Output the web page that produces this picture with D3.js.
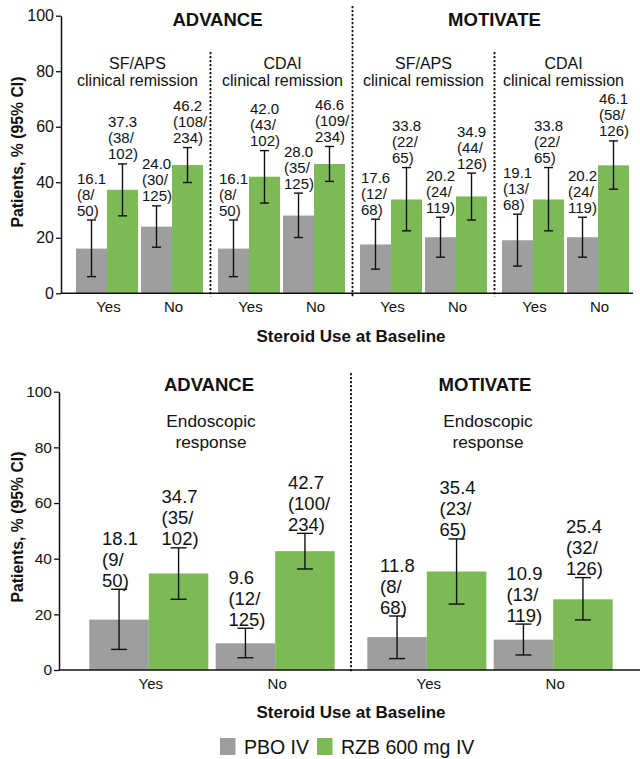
<!DOCTYPE html>
<html><head><meta charset="utf-8">
<script src="https://cdn.jsdelivr.net/npm/d3@7"></script>
<style>body{margin:0;background:#fff}svg{display:block;font-family:"Liberation Sans",Arial,sans-serif}</style>
</head><body>
<svg id="c" width="640" height="759"></svg>
<script>
// ---------- data ----------
const studies = ["ADVANCE", "MOTIVATE"];
const steroidGroups = ["Yes", "No"];
const seriesNames = ["PBO IV", "RZB 600 mg IV"];
const yTicks = [0, 20, 40, 60, 80, 100];

// top chart: 4 panels, each [Yes-PBO, Yes-RZB, No-PBO, No-RZB]
const topEndpoints = [["SF/APS", "clinical remission"], ["CDAI", "clinical remission"], ["SF/APS", "clinical remission"], ["CDAI", "clinical remission"]];
const topPct = [[16.1, 37.3, 24.0, 46.2], [16.1, 42.0, 28.0, 46.6], [17.6, 33.8, 20.2, 34.9], [19.1, 33.8, 20.2, 46.1]];
const topNum = [[8, 38, 30, 108], [8, 43, 35, 109], [12, 22, 24, 44], [13, 22, 24, 58]];
const topDen = [[50, 102, 125, 234], [50, 102, 125, 234], [68, 65, 119, 126], [68, 65, 119, 126]];
const topLo = [[6.0, 27.9, 16.6, 39.9], [6.0, 32.5, 20.1, 40.3], [8.7, 22.5, 13.0, 26.4], [9.8, 22.5, 13.0, 37.5]];
const topHi = [[26.4, 46.6, 31.5, 52.5], [26.4, 51.4, 36.1, 52.9], [26.7, 45.3, 27.4, 43.3], [28.5, 45.3, 27.4, 54.9]];

// bottom chart: 2 panels
const botEndpoint = ["Endoscopic", "response"];
const botPct = [[18.1, 34.7, 9.6, 42.7], [11.8, 35.4, 10.9, 25.4]];
const botNum = [[9, 35, 12, 100], [8, 23, 13, 32]];
const botDen = [[50, 102, 125, 234], [68, 65, 119, 126]];
const botLo = [[7.4, 25.4, 4.4, 36.3], [4.1, 23.7, 5.4, 18.0]];
const botHi = [[29.0, 43.9, 15.0, 49.1], [19.4, 47.1, 16.5, 33.2]];

const xTitle = "Steroid Use at Baseline";
const yTitle = "Patients, % (95% CI)";

// ---------- style ----------
const colors = ["#9d9ea0", "#7cba56"];
const ink = "#111";
const svg = d3.select("#c");

function drawChart(cfg) {
  const g = svg.append("g");
  const nP = cfg.pct.length;
  const panels = d3.range(nP);
  const xP = d3.scaleBand().domain(panels).range(cfg.xr).padding(0);
  const xG = d3.scalePoint().domain(steroidGroups).range([0, xP.bandwidth()]).padding(cfg.gpad);
  const xS = d3.scaleBand().domain(seriesNames).range([-cfg.bw, cfg.bw]);
  const y = d3.scaleLinear().domain([0, 100]).range(cfg.yr);

  // y axis
  const ya = g.append("g").attr("transform", `translate(${cfg.ax},0)`)
    .call(d3.axisLeft(y).tickValues(yTicks).tickSize(5).tickPadding(2).tickSizeOuter(0));
  ya.select(".domain").attr("stroke", ink).attr("stroke-width", 1.5);
  ya.selectAll(".tick line").attr("stroke", ink).attr("stroke-width", 1.3);
  ya.selectAll(".tick text").attr("fill", ink).attr("font-size", cfg.ytf).attr("font-family", null);

  // bars
  const recs = [];
  panels.forEach(p => steroidGroups.forEach((gr, gi) => seriesNames.forEach((s, si) => {
    const k = gi * 2 + si;
    recs.push({p, gr, s, si, v: cfg.pct[p][k], lo: cfg.lo[p][k], hi: cfg.hi[p][k], n: cfg.num[p][k], d: cfg.den[p][k]});
  })));
  const bx = d => xP(d.p) + xG(d.gr) + xS(d.s);
  const cx = d => bx(d) + xS.bandwidth() / 2;
  g.selectAll("rect.bar").data(recs).join("rect").attr("class", "bar")
    .attr("x", bx).attr("width", xS.bandwidth())
    .attr("y", d => y(d.v)).attr("height", d => y(0) - y(d.v))
    .attr("fill", d => colors[d.si]);

  // error bars
  const eb = g.selectAll("g.eb").data(recs).join("g").attr("class", "eb")
    .attr("stroke", ink).attr("stroke-width", 1.4);
  eb.append("line").attr("x1", cx).attr("x2", cx).attr("y1", d => y(d.lo)).attr("y2", d => y(d.hi));
  eb.append("line").attr("x1", d => cx(d) - cfg.cap).attr("x2", d => cx(d) + cfg.cap).attr("y1", d => y(d.hi)).attr("y2", d => y(d.hi));
  eb.append("line").attr("x1", d => cx(d) - cfg.cap).attr("x2", d => cx(d) + cfg.cap).attr("y1", d => y(d.lo)).attr("y2", d => y(d.lo));

  // value labels
  recs.forEach(d => {
    const lines = [d.v.toFixed(1), `(${d.n}/`, `${d.d})`];
    const x0 = cfg.labelX(d, bx, cx);
    const yb = y(d.hi) - cfg.lab.off;
    const t = g.append("text").attr("font-size", cfg.lab.fs).attr("fill", ink);
    lines.forEach((l, i) => t.append("tspan").attr("x", x0).attr("y", yb - (2 - i) * cfg.lab.lh).text(l));
  });

  // x axis line
  g.append("line").attr("x1", cfg.ax).attr("x2", cfg.xEnd).attr("y1", y(0)).attr("y2", y(0))
    .attr("stroke", ink).attr("stroke-width", 1.5);
  // x tick labels
  panels.forEach(p => steroidGroups.forEach(gr => {
    g.append("text").attr("x", xP(p) + xG(gr) + cfg.xtdx).attr("y", cfg.xtY)
      .attr("text-anchor", "middle").attr("font-size", cfg.xtf).attr("fill", ink).text(gr);
  }));

  // dividers
  cfg.dividers.forEach(dv => {
    g.append("line").attr("x1", xP(dv.p)).attr("x2", xP(dv.p)).attr("y1", dv.y1).attr("y2", y(0) + 3)
      .attr("stroke", ink).attr("stroke-width", 1.8).attr("stroke-dasharray", "2.2,1.8");
  });

  // study titles
  studies.forEach((st, i) => {
    const ps = cfg.studyPanels[i];
    const mid = (xP(ps[0]) + xP(ps[ps.length - 1]) + xP.bandwidth()) / 2;
    g.append("text").attr("x", mid + cfg.stdx[i]).attr("y", cfg.stY).attr("text-anchor", "middle")
      .attr("font-size", 18.5).attr("font-weight", "bold").attr("fill", ink).text(st);
  });
  // endpoint subtitles
  panels.forEach(p => {
    const ep = cfg.endpoints[p];
    ep.forEach((l, i) => g.append("text").attr("x", xP(p) + xP.bandwidth() / 2 + cfg.epdx[p]).attr("y", cfg.epY[i])
      .attr("text-anchor", "middle").attr("font-size", cfg.epf).attr("fill", ink).text(l));
  });

  // axis titles
  g.append("text").attr("x", 351).attr("y", cfg.xtitleY).attr("text-anchor", "middle")
    .attr("font-size", 17).attr("font-weight", "bold").attr("fill", ink).text(xTitle);
  g.append("text").attr("transform", `translate(${cfg.ytX},${cfg.ytY}) rotate(-90)`).attr("text-anchor", "middle")
    .attr("font-size", 15.8).attr("font-weight", "bold").attr("fill", ink).text(yTitle);
}

drawChart({
  pct: topPct, num: topNum, den: topDen, lo: topLo, hi: topHi,
  xr: [68.5, 636.5], yr: [293.3, 15.7], ax: 61, xEnd: 633, gpad: 0.592, bw: 31, cap: 4.5,
  ytf: 16, xtf: 15, xtY: 312, xtdx: 1.5,
  lab: {fs: 15, lh: 16, off: 4.5},
  labelX: (d, bx, cx) => bx(d) + 1,
  dividers: [{p: 1, y1: 52}, {p: 2, y1: 6}, {p: 3, y1: 52}],
  studyPanels: [[0, 1], [2, 3]], stdx: [7, 0], stY: 25.5,
  endpoints: topEndpoints, epdx: [-2, 1, 0, -2], epY: [68.5, 86], epf: 16,
  xtitleY: 341.5, ytX: 22.5, ytY: 152
});

drawChart({
  pct: botPct, num: botNum, den: botDen, lo: botLo, hi: botHi,
  xr: [73, 629], yr: [670, 391.7], ax: 59, xEnd: 640, gpad: 0.6, bw: 59.5, cap: 8,
  ytf: 15.5, xtf: 15, xtY: 689, xtdx: 2,
  lab: {fs: 18.5, lh: 21, off: 2.5},
  labelX: (d, bx, cx) => cx(d) - 17,
  dividers: [{p: 1, y1: 373}],
  studyPanels: [[0], [1]], stdx: [-3, -5], stY: 390.5,
  endpoints: [botEndpoint, botEndpoint], epdx: [-1, -2], epY: [427, 447.5], epf: 17.3,
  xtitleY: 717.5, ytX: 22.5, ytY: 527
});

// legend
const leg = svg.append("g").attr("transform", "translate(220,738)");
const legX = [0, 97];
seriesNames.forEach((s, i) => {
  leg.append("rect").attr("x", legX[i]).attr("y", 0).attr("width", 15.5).attr("height", 17).attr("fill", colors[i]);
  leg.append("text").attr("x", legX[i] + 24).attr("y", 16).attr("font-size", 19.5).attr("fill", ink).text(s);
});
</script>
</body></html>
